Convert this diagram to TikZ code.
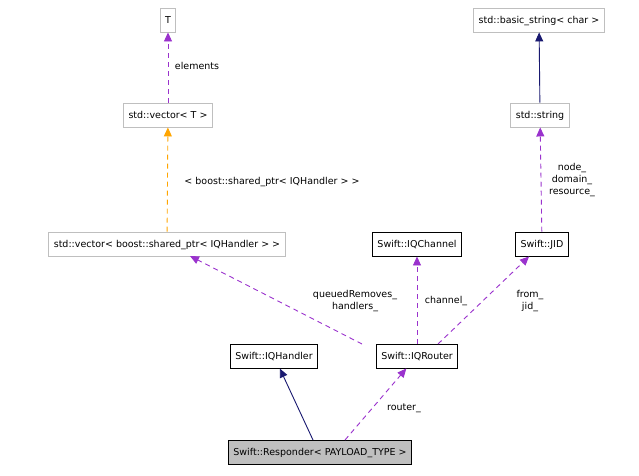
\documentclass[tikz,border=0pt]{standalone}
\usepackage{fontspec}
\setmainfont{DejaVu Sans}
\usetikzlibrary{arrows.meta, positioning}
\definecolor{usecol}{HTML}{9A32CD}
\definecolor{tplcol}{HTML}{FFA500}
\definecolor{inhcol}{HTML}{191970}
\definecolor{extcol}{HTML}{BFBFBF}

\begin{document}
\begin{tikzpicture}[x=1pt, y=-1pt, >={Triangle[length=9pt,width=8pt]},
    font=\fontsize{9.5}{11}\selectfont, line width=0.9pt,
    cls/.style={draw=black, fill=white, minimum height=24pt, inner xsep=5pt, text depth=0pt},
    ext/.style={cls, draw=extcol},
    inherit/.style={->, color=inhcol},
    uses/.style={->, dash pattern=on 5pt off 4pt, color=usecol},
    tmpl/.style={->, dash pattern=on 5pt off 4pt, color=tplcol},
    lbl/.style={align=center, font=\fontsize{9.5}{12}\selectfont}]
    \useasboundingbox (0,0) rectangle (639,475);

    % External classes
    \node[ext] (T) at (168,20) {T};
    \node[ext] (vecT) at (168,115) {std::vector< T >};
    \node[ext] (bstr) at (539,20) {std::basic\_string< char >};
    \node[ext] (str) at (540,115) {std::string};
    \node[ext] (vecH) at (167,244) {std::vector< boost::shared\_ptr< IQHandler > >};

    % Swift classes
    \node[cls] (chan) at (417,244) {Swift::IQChannel};
    \node[cls] (jid) at (542,244) {Swift::JID};
    \node[cls] (handler) at (274,356) {Swift::IQHandler};
    \node[cls] (router) at (417,356) {Swift::IQRouter};
    \node[cls, fill=extcol] (resp) at (320,452) {Swift::Responder< PAYLOAD\_TYPE >};

    % Connectors
    \draw[uses] (vecT) -- (T);
    \node[lbl] (lelem) at (197,66) {elements};
    \draw[tmpl] (vecH) -- (vecT);
    \node[lbl] (ltpl) at (272,182) {< boost::shared\_ptr< IQHandler > >};
    \draw[inherit] (str) -- (bstr);
    \draw[uses] (jid) -- (str);
    \node[lbl] (ljid) at (572,180) {node\_\\domain\_\\resource\_};

    \coordinate (vh) at (190,256);
    \coordinate (rv) at (362,344);
    \draw[uses] (rv) -- (vh);
    \node[lbl] (lq) at (355,301) {queuedRemoves\_\\handlers\_};
    \draw[uses] (router) -- (chan);
    \node[lbl] (lch) at (446,301) {channel\_};
    \coordinate (rj) at (438,344);
    \draw[uses] (rj) -- (jid);
    \node[lbl] (lfr) at (530,301) {from\_\\jid\_};

    \coordinate (rh) at (313,440);
    \coordinate (rr) at (345,440);
    \draw[inherit] (rh) -- (handler);
    \draw[uses] (rr) -- (router);
    \node[lbl] (lro) at (404,408) {router\_};
\end{tikzpicture}
\end{document}
